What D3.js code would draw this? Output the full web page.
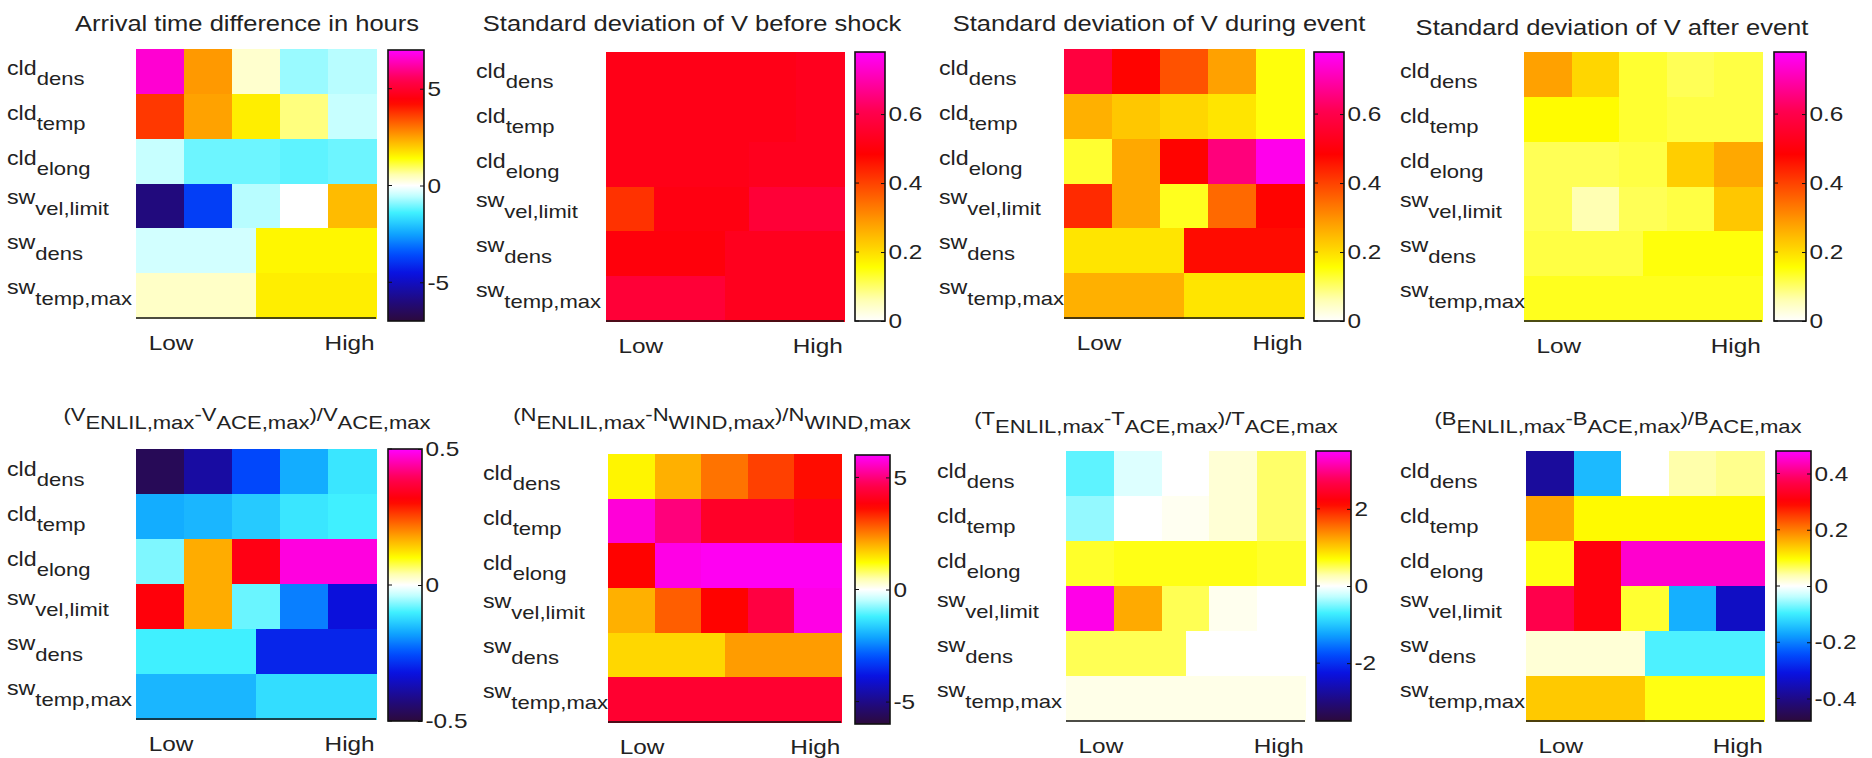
<!DOCTYPE html>
<html>
<head>
<meta charset="utf-8">
<title>ENLIL parameter heat maps</title>
<style>
  body { margin: 0; background: #fff; }
  svg text { font-family: "Liberation Sans", Arial, sans-serif; fill: #222; }
</style>
</head>
<body>
<svg width="1872" height="758"></svg>
<script src="https://d3js.org/d3.v7.min.js"></script>
<script>
// row labels [main, subscript], x tick labels
var rowLabels = [["cld","dens"],["cld","temp"],["cld","elong"],["sw","vel,limit"],["sw","dens"],["sw","temp,max"]];
var xTickLabels = ["Low", "High"];

// cell values, rows top to bottom (the sw_dens / sw_temp,max rows only have 2 bins)
var arrivalDiff = [[6.6, 2.6, 0.35, -0.8, -0.6], [3.7, 2.5, 1.6, 0.8, -0.5], [-0.5, -1.1, -1.1, -1.2, -1.1], [-6.0, -3.8, -0.6, 0, 2.2], [-0.4, 1.5], [0.4, 1.6]];
var sdBeforeShock = [[0.52, 0.52, 0.52, 0.52, 0.53], [0.52, 0.52, 0.52, 0.52, 0.53], [0.52, 0.52, 0.52, 0.53, 0.53], [0.42, 0.51, 0.51, 0.57, 0.57], [0.5, 0.53], [0.57, 0.53]];
var sdDuringEvent = [[0.58, 0.48, 0.38, 0.28, 0.15], [0.26, 0.23, 0.21, 0.19, 0.15], [0.13, 0.27, 0.48, 0.65, 0.76], [0.43, 0.27, 0.14, 0.35, 0.48], [0.19, 0.47], [0.26, 0.19]];
var sdAfterEvent = [[0.28, 0.21, 0.13, 0.11, 0.12], [0.16, 0.16, 0.13, 0.12, 0.12], [0.11, 0.11, 0.12, 0.22, 0.27], [0.11, 0.06, 0.11, 0.12, 0.23], [0.12, 0.15], [0.14, 0.14]];
var velRelDiff = [[-0.47, -0.39, -0.26, -0.17, -0.11], [-0.17, -0.16, -0.14, -0.11, -0.1], [-0.07, 0.17, 0.33, 0.48, 0.48], [0.32, 0.17, -0.08, -0.21, -0.33], [-0.1, -0.3], [-0.16, -0.12]];
var densRelDiff = [[1.3, 2.0, 2.6, 3.1, 3.6], [5.7, 5.0, 4.2, 4.2, 4.0], [3.7, 5.8, 5.9, 5.9, 5.9], [2.0, 2.8, 3.7, 4.5, 5.8], [1.6, 2.2], [4.3, 4.3]];
var tempRelDiff = [[-0.6, -0.15, 0, 0.15, 0.45], [-0.42, 0, 0.05, 0.15, 0.45], [0.6, 0.65, 0.65, 0.65, 0.6], [3.4, 1.2, 0.5, 0.06, 0], [0.5, 0], [0.08, 0.08]];
var bRelDiff = [[-0.38, -0.15, 0, 0.04, 0.05], [0.17, 0.1, 0.1, 0.1, 0.1], [0.09, 0.31, 0.45, 0.45, 0.45], [0.37, 0.31, 0.08, -0.16, -0.34], [0.02, -0.09], [0.14, 0.09]];

// titles as [text, isSubscript] pieces
var titles = [
  [["Arrival time difference in hours", 0]],
  [["Standard deviation of V before shock", 0]],
  [["Standard deviation of V during event", 0]],
  [["Standard deviation of V after event", 0]],
  [["(V", 0], ["ENLIL,max", 1], ["-V", 0], ["ACE,max", 1], [")/V", 0], ["ACE,max", 1]],
  [["(N", 0], ["ENLIL,max", 1], ["-N", 0], ["WIND,max", 1], [")/N", 0], ["WIND,max", 1]],
  [["(T", 0], ["ENLIL,max", 1], ["-T", 0], ["ACE,max", 1], [")/T", 0], ["ACE,max", 1]],
  [["(B", 0], ["ENLIL,max", 1], ["-B", 0], ["ACE,max", 1], [")/B", 0], ["ACE,max", 1]]
];
var panelValues = [arrivalDiff, sdBeforeShock, sdDuringEvent, sdAfterEvent, velRelDiff, densRelDiff, tempRelDiff, bRelDiff];
var colorMax = [7, 0.78, 0.78, 0.78, 0.5, 6, 3.5, 0.48];
var diverging = [true, false, false, false, true, true, true, true];
var colorTicks = [[-5, 0, 5], [0, 0.2, 0.4, 0.6], [0, 0.2, 0.4, 0.6], [0, 0.2, 0.4, 0.6],
                  [-0.5, 0, 0.5], [-5, 0, 5], [-2, 0, 2], [-0.4, -0.2, 0, 0.2, 0.4]];

// layout: heat map box, colour bar box, title centre/baseline, label x
var layout = [
  {hm: [136, 49, 376, 318],   cb: [388, 50, 424, 321],   tx: 247,  ty: 31,  lx: 7,    ts: 22},
  {hm: [606, 52, 844, 321],   cb: [855, 52, 885, 321],   tx: 692,  ty: 31,  lx: 476,  ts: 22},
  {hm: [1064, 49, 1304, 318], cb: [1314, 52, 1344, 321], tx: 1159, ty: 31,  lx: 939,  ts: 22},
  {hm: [1524, 52, 1762, 321], cb: [1774, 52, 1806, 321], tx: 1612, ty: 35,  lx: 1400, ts: 22},
  {hm: [136, 449, 376, 719],  cb: [388, 449, 422, 721],  tx: 247,  ty: 421, lx: 7,    ts: 19},
  {hm: [608, 454, 841, 722],  cb: [855, 455, 890, 724],  tx: 712,  ty: 421, lx: 483,  ts: 19},
  {hm: [1066, 451, 1305, 721],cb: [1316, 451, 1351, 721],tx: 1156, ty: 425, lx: 937,  ts: 19},
  {hm: [1526, 451, 1764, 721],cb: [1776, 451, 1811, 721],tx: 1618, ty: 425, lx: 1400, ts: 19}
];

var SX = 1.16; // the original picture is a bit stretched sideways

// colormap: dark purple - blue - cyan - white - yellow - orange - red - magenta
var cmap = d3.scaleLinear()
    .domain([-1, -0.85, -0.65, -0.5, -0.35, -0.2, -0.07, 0, 0.08, 0.2, 0.36, 0.49, 0.62, 0.78, 0.9, 1])
    .range(["#2c0a3c", "#200a80", "#0a10e0", "#0050ff", "#10a8ff", "#40f0ff", "#c8ffff", "#ffffff",
            "#ffffb0", "#ffff00", "#ffa000", "#ff5000", "#ff0000", "#ff0050", "#ff00b0", "#ff00ff"])
    .interpolate(d3.interpolateRgb)
    .clamp(true);

var svg = d3.select("svg");
svg.append("rect").attr("width", 1872).attr("height", 758).attr("fill", "#fff");
var defs = svg.append("defs");

function stretchedText(g, x, y, size, anchor) {
  return g.append("text")
      .attr("transform", "translate(" + x + "," + y + ") scale(" + SX + ",1)")
      .attr("text-anchor", anchor)
      .style("font-size", size + "px");
}

panelValues.forEach(function(values, k) {
  var L = layout[k], vmax = colorMax[k];
  var g = svg.append("g");

  var x = d3.scaleLinear().domain([0, 5]).range([L.hm[0], L.hm[2]]);
  var y = d3.scaleBand().domain(d3.range(rowLabels.length)).range([L.hm[1], L.hm[3]]);

  // cells
  values.forEach(function(row, r) {
    var w = 5 / row.length;
    g.selectAll(null).data(row).enter().append("rect")
        .attr("x", function(d, i) { return x(i * w); })
        .attr("width", function(d, i) { return x((i + 1) * w) - x(i * w) + 0.6; })
        .attr("y", y(r))
        .attr("height", y.bandwidth() + 0.6)
        .attr("fill", function(d) { return cmap(d / vmax); })
        .attr("shape-rendering", "crispEdges");
  });

  // bottom axis line
  g.append("line")
      .attr("x1", L.hm[0]).attr("x2", L.hm[2])
      .attr("y1", L.hm[3]).attr("y2", L.hm[3])
      .attr("stroke", "#111").attr("stroke-width", 1.6);

  // Low / High
  [0.73, 4.45].forEach(function(pos, i) {
    stretchedText(g, x(pos), L.hm[3] + 32, 21, "middle").text(xTickLabels[i]);
  });

  // row labels with subscripts
  rowLabels.forEach(function(lab, r) {
    var cy = y(r) + y.bandwidth() / 2;
    var isCld = lab[0] === "cld";
    var t = stretchedText(g, L.lx, cy + (isCld ? 4 : -2), 20, "start");
    t.append("tspan").text(lab[0]);
    t.append("tspan").attr("dy", isCld ? 10 : 11).style("font-size", "19px").text(lab[1]);
  });

  // title
  var tt = stretchedText(g, L.tx, L.ty, L.ts, "middle");
  var down = false;
  titles[k].forEach(function(seg) {
    var sp = tt.append("tspan").text(seg[0]);
    if (seg[1] && !down) { sp.attr("dy", 8); down = true; }
    else if (!seg[1] && down) { sp.attr("dy", -8); down = false; }
  });

  // colour bar
  var vmin = diverging[k] ? -vmax : 0;
  var grad = defs.append("linearGradient")
      .attr("id", "cb" + k)
      .attr("x1", "0%").attr("y1", "100%").attr("x2", "0%").attr("y2", "0%");
  d3.range(0, 1.0001, 0.02).forEach(function(f) {
    var v = vmin + f * (vmax - vmin);
    grad.append("stop").attr("offset", (f * 100) + "%").attr("stop-color", cmap(v / vmax));
  });
  g.append("rect")
      .attr("x", L.cb[0]).attr("y", L.cb[1])
      .attr("width", L.cb[2] - L.cb[0]).attr("height", L.cb[3] - L.cb[1])
      .attr("fill", "url(#cb" + k + ")")
      .attr("stroke", "#111").attr("stroke-width", 1.6);

  var yc = d3.scaleLinear().domain([vmin, vmax]).range([L.cb[3], L.cb[1]]);
  var ax = g.append("g")
      .attr("transform", "translate(" + L.cb[2] + ",0)")
      .call(d3.axisRight(yc).tickValues(colorTicks[k]).tickSize(-4).tickPadding(3)
            .tickFormat(function(d) { return String(d); }));
  ax.select(".domain").remove();
  ax.selectAll(".tick line").attr("stroke", "#111");
  ax.selectAll(".tick text")
      .attr("transform", "scale(" + SX + ",1)")
      .style("font-size", "21px")
      .style("font-family", "'Liberation Sans', Arial, sans-serif")
      .attr("fill", "#222");
  // matching tick marks on the left edge
  g.selectAll(null).data(colorTicks[k]).enter().append("line")
      .attr("x1", L.cb[0]).attr("x2", L.cb[0] + 4)
      .attr("y1", function(d) { return yc(d); }).attr("y2", function(d) { return yc(d); })
      .attr("stroke", "#111");
});
</script>
</body>
</html>
